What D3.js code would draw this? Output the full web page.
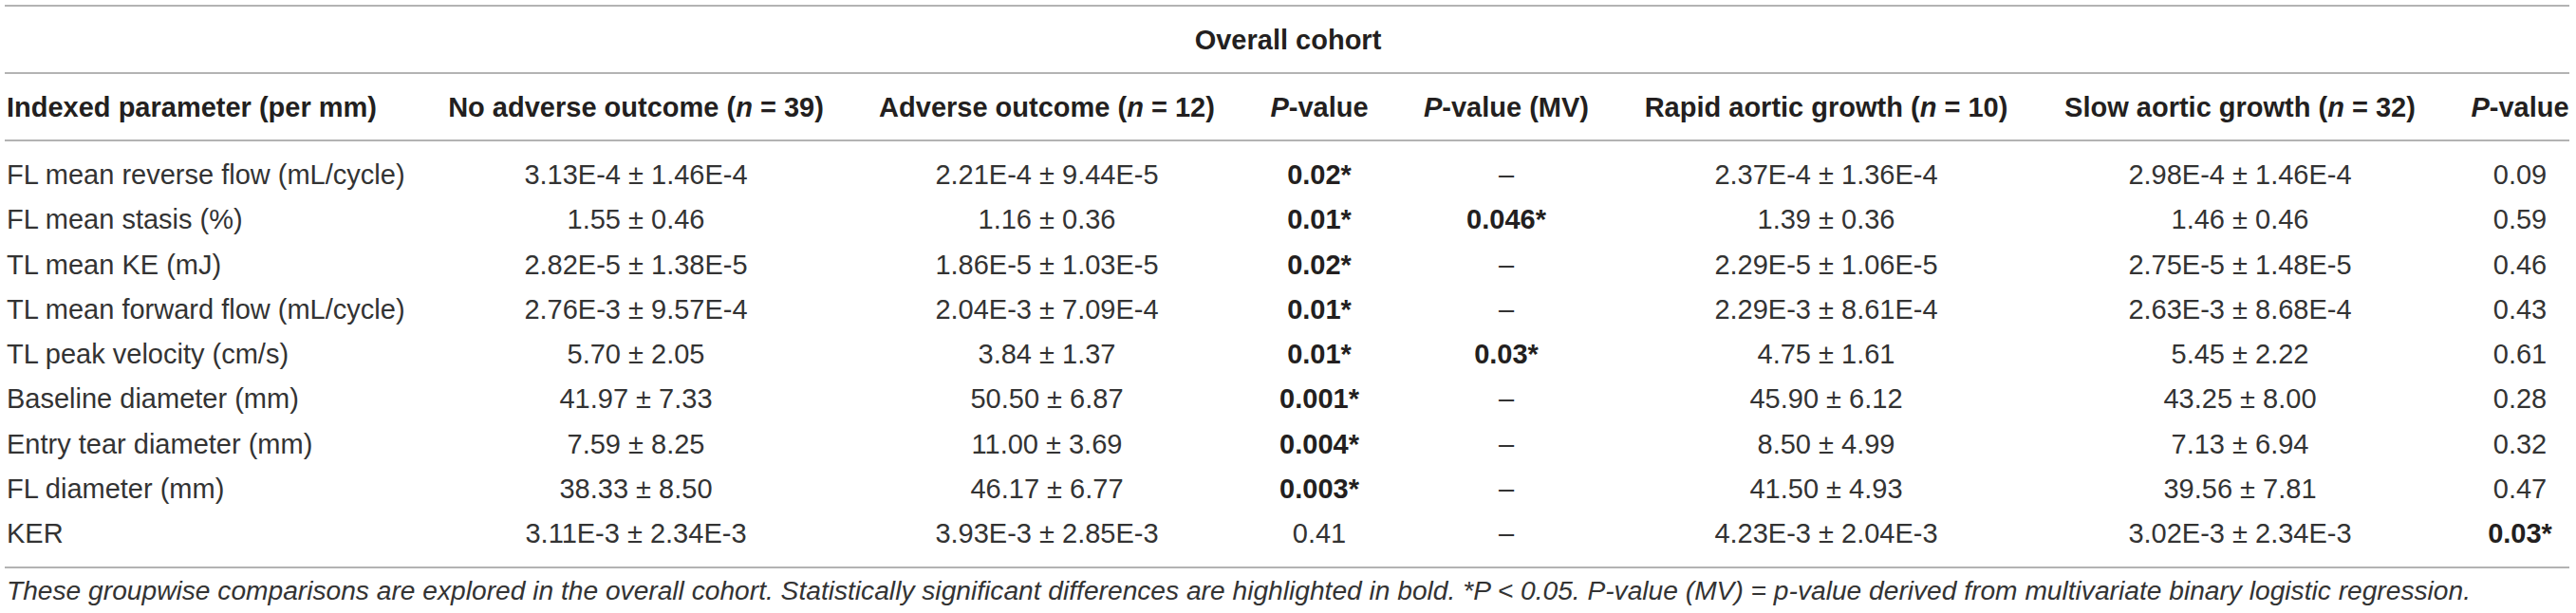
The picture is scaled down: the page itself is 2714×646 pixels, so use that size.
<!DOCTYPE html>
<html>
<head>
<meta charset="utf-8">
<title>Overall cohort table</title>
<script src="https://cdn.jsdelivr.net/npm/d3@7"></script>
<style>
  body { margin: 0; background: #fff; }
  text { font-family: "Liberation Sans", Arial, sans-serif; fill: #231f20; }
</style>
</head>
<body>
<svg width="2714" height="646"></svg>
<script>
// table data
const parameters = [
  "FL mean reverse flow (mL/cycle)",
  "FL mean stasis (%)",
  "TL mean KE (mJ)",
  "TL mean forward flow (mL/cycle)",
  "TL peak velocity (cm/s)",
  "Baseline diameter (mm)",
  "Entry tear diameter (mm)",
  "FL diameter (mm)",
  "KER"
];
const noAdverse = ["3.13E-4 ± 1.46E-4", "1.55 ± 0.46", "2.82E-5 ± 1.38E-5", "2.76E-3 ± 9.57E-4",
  "5.70 ± 2.05", "41.97 ± 7.33", "7.59 ± 8.25", "38.33 ± 8.50", "3.11E-3 ± 2.34E-3"];
const adverse = ["2.21E-4 ± 9.44E-5", "1.16 ± 0.36", "1.86E-5 ± 1.03E-5", "2.04E-3 ± 7.09E-4",
  "3.84 ± 1.37", "50.50 ± 6.87", "11.00 ± 3.69", "46.17 ± 6.77", "3.93E-3 ± 2.85E-3"];
const pOutcome = ["0.02*", "0.01*", "0.02*", "0.01*", "0.01*", "0.001*", "0.004*", "0.003*", "0.41"];
const pOutcomeMV = ["–", "0.046*", "–", "–", "0.03*", "–", "–", "–", "–"];
const rapid = ["2.37E-4 ± 1.36E-4", "1.39 ± 0.36", "2.29E-5 ± 1.06E-5", "2.29E-3 ± 8.61E-4",
  "4.75 ± 1.61", "45.90 ± 6.12", "8.50 ± 4.99", "41.50 ± 4.93", "4.23E-3 ± 2.04E-3"];
const slow = ["2.98E-4 ± 1.46E-4", "1.46 ± 0.46", "2.75E-5 ± 1.48E-5", "2.63E-3 ± 8.68E-4",
  "5.45 ± 2.22", "43.25 ± 8.00", "7.13 ± 6.94", "39.56 ± 7.81", "3.02E-3 ± 2.34E-3"];
const pGrowth = ["0.09", "0.59", "0.46", "0.43", "0.61", "0.28", "0.32", "0.47", "0.03*"];

// header labels: [plain, italic, plain] pieces
const headers = [
  [["Indexed parameter (per mm)", false]],
  [["No adverse outcome (", false], ["n", true], [" = 39)", false]],
  [["Adverse outcome (", false], ["n", true], [" = 12)", false]],
  [["P", true], ["-value", false]],
  [["P", true], ["-value (MV)", false]],
  [["Rapid aortic growth (", false], ["n", true], [" = 10)", false]],
  [["Slow aortic growth (", false], ["n", true], [" = 32)", false]],
  [["P", true], ["-value", false]]
];
const columns = [parameters, noAdverse, adverse, pOutcome, pOutcomeMV, rapid, slow, pGrowth];
const spanTitle = "Overall cohort";
const footnote = "These groupwise comparisons are explored in the overall cohort. Statistically significant differences are highlighted in bold. *P < 0.05. P-value (MV) = p-value derived from multivariate binary logistic regression.";

const svg = d3.select("svg");
const W = 2714;

// column centres (first column is left aligned)
const colX = d3.scaleOrdinal()
  .domain(d3.range(columns.length))
  .range([7, 670, 1103, 1390, 1587, 1924, 2360, 2655]);

const rowY = d3.scalePoint()
  .domain(parameters)
  .range([194, 572]);

const fs = 29;

// rules
const rules = [6, 77, 148, 598];
svg.selectAll("line.rule")
  .data(rules)
  .join("line")
  .attr("class", "rule")
  .attr("x1", 5).attr("x2", W - 7)
  .attr("y1", d => d).attr("y2", d => d)
  .attr("stroke", "#b3b3b3")
  .attr("stroke-width", 2);

// spanning title
svg.append("text")
  .attr("x", 1357).attr("y", 52)
  .attr("text-anchor", "middle")
  .style("font-size", fs + "px")
  .style("font-weight", "bold")
  .text(spanTitle);

// header row
svg.selectAll("text.head")
  .data(headers)
  .join("text")
  .attr("class", "head")
  .attr("x", (d, i) => colX(i))
  .attr("y", 123)
  .attr("text-anchor", (d, i) => i === 0 ? "start" : "middle")
  .style("font-size", fs + "px")
  .style("font-weight", "bold")
  .each(function (d) {
    d3.select(this).selectAll("tspan")
      .data(d)
      .join("tspan")
      .style("font-style", p => p[1] ? "italic" : "normal")
      .text(p => p[0]);
  });

// body cells
columns.forEach((col, ci) => {
  svg.selectAll("text.c" + ci)
    .data(col)
    .join("text")
    .attr("class", "c" + ci)
    .attr("x", colX(ci))
    .attr("y", (d, ri) => rowY(parameters[ri]))
    .attr("text-anchor", ci === 0 ? "start" : "middle")
    .style("font-size", fs + "px")
    .style("font-weight", d => ci > 0 && d.endsWith("*") ? "bold" : "normal")
    .style("fill", d => ci > 0 && d.endsWith("*") ? "#231f20" : "#333")
    .text(d => d);
});

// footnote
svg.append("text")
  .attr("x", 7).attr("y", 632)
  .attr("textLength", 2596)
  .attr("lengthAdjust", "spacingAndGlyphs")
  .style("font-size", "27px")
  .style("font-style", "italic")
  .style("fill", "#333")
  .text(footnote);
</script>
</body>
</html>
